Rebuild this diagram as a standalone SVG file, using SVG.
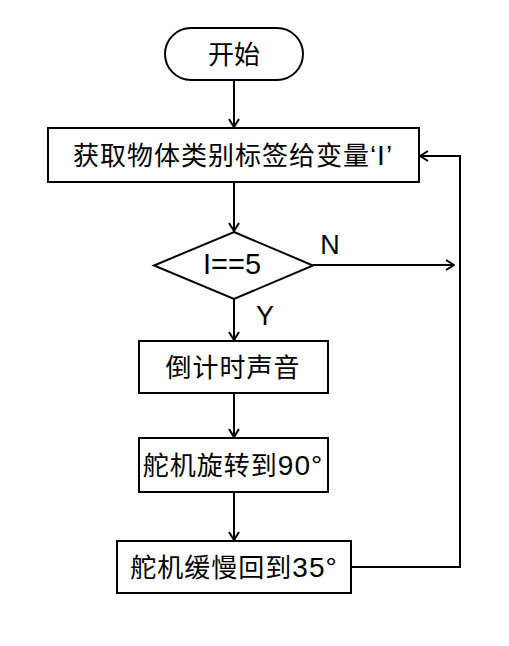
<svg xmlns="http://www.w3.org/2000/svg" width="509" height="646" viewBox="0 0 509 646">
<style>
.n{fill:#fff;stroke:#000;stroke-width:2}
.t{font-family:"Liberation Sans","Noto Sans CJK SC",sans-serif;font-size:26px;fill:#000;text-anchor:middle}
.l{font-size:28px}
.c{fill:none;stroke:#000;stroke-width:2}
</style>
<defs>
<marker id="a" viewBox="0 0 10 12" refX="9" refY="6" markerWidth="10" markerHeight="12" markerUnits="userSpaceOnUse" orient="auto">
<path d="M1,1 L9,6 L1,11" fill="none" stroke="#000" stroke-width="2"/>
</marker>
</defs>
<rect width="509" height="646" fill="#fff"/>
<g id="connectors">
<line class="c" x1="234" y1="80" x2="234" y2="127" marker-end="url(#a)"/>
<line class="c" x1="234" y1="182" x2="234" y2="231" marker-end="url(#a)"/>
<line class="c" x1="313" y1="265" x2="454" y2="265" marker-end="url(#a)"/>
<line class="c" x1="234" y1="299" x2="234" y2="340" marker-end="url(#a)"/>
<line class="c" x1="234" y1="393" x2="234" y2="437" marker-end="url(#a)"/>
<line class="c" x1="234" y1="492" x2="234" y2="540" marker-end="url(#a)"/>
<polyline class="c" points="351,567 460,567 460,156 420,156" marker-end="url(#a)"/>
<text class="t l" x="330" y="254" style="font-size:27px">N</text>
<text class="t l" x="265" y="325" style="font-size:27px">Y</text>
</g>
<g id="start">
<rect class="n" x="165" y="28" width="138" height="52" rx="26"/>
<text class="t" x="234" y="64">开始</text>
</g>
<g id="get-label">
<rect class="n" x="48" y="128" width="371" height="54"/>
<text class="t" x="233" y="165" letter-spacing="1">获取物体类别标签给变量<tspan class="l">‘I’</tspan></text>
</g>
<g id="decision">
<polygon class="n" points="234,232 313,265.5 234,299 154,265.5"/>
<text class="t" x="232" y="274" style="font-size:29px">I==5</text>
</g>
<g id="countdown">
<rect class="n" x="139" y="341" width="189" height="52"/>
<text class="t" x="233" y="377" letter-spacing="1">倒计时声音</text>
</g>
<g id="servo90">
<rect class="n" x="139" y="438" width="189" height="54"/>
<text class="t" x="233" y="475" letter-spacing="1">舵机旋转到<tspan class="l">90°</tspan></text>
</g>
<g id="servo35">
<rect class="n" x="117" y="541" width="234" height="52"/>
<text class="t" x="234" y="577" letter-spacing="1">舵机缓慢回到<tspan class="l">35°</tspan></text>
</g>
</svg>
